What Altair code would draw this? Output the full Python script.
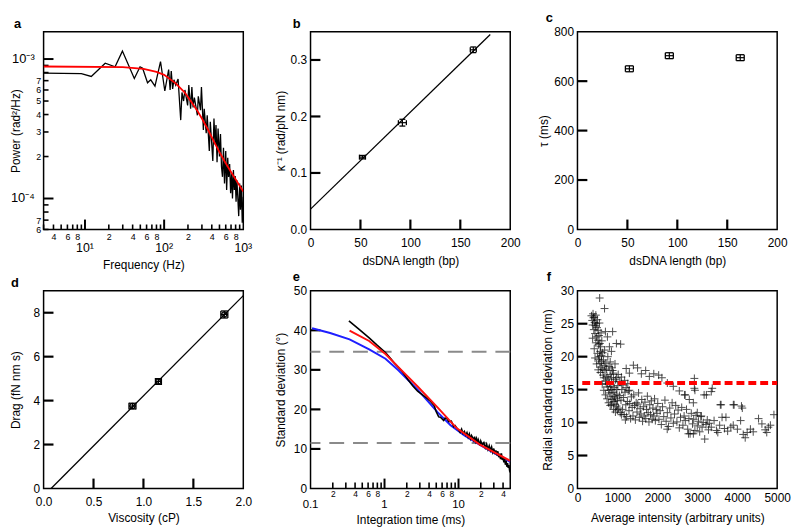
import math
import altair as alt
import pandas as pd

W, H = 202, 200
FONT = "Liberation Sans"

# ---------------- panel a : power spectrum ----------------
a_f = [3, 9, 12, 18, 24, 29.7, 42, 49.6, 53.5, 61.7, 67.7, 76.6, 90, 102, 114, 119, 123, 128, 133,
       140, 150, 162, 168, 176, 183, 198, 205, 216, 224, 232, 241, 263, 270, 288, 296, 313, 321,
       340, 350, 372, 383, 412, 426, 440, 452, 466, 480, 500, 515, 530, 546, 562, 579, 600, 616,
       636, 652, 672, 692, 712, 730, 750, 770, 790, 810, 830, 850, 875, 900, 920, 945, 970, 1000]
a_p = [7.94e-4, 7.85e-4, 7.5e-4, 9.33e-4, 8.8e-4, 1.14e-3, 7.25e-4, 8.8e-4, 8.6e-4, 6.76e-4,
       7.1e-4, 6.4e-4, 9.6e-4, 5.9e-4, 8.4e-4, 6.0e-4, 8.2e-4, 6.1e-4, 7.1e-4, 6.5e-4, 7.2e-4,
       3.65e-4, 5.76e-4, 5.0e-4, 6.0e-4, 4.65e-4, 6.5e-4, 4.4e-4, 6.3e-4, 4.5e-4, 5.3e-4, 3.95e-4,
       5.4e-4, 4.3e-4, 6.3e-4, 3.1e-4, 4.4e-4, 2.94e-4, 3.95e-4, 2.19e-4, 3.55e-4, 1.86e-4, 3.74e-4,
       2.44e-4, 3.37e-4, 1.82e-4, 3.18e-4, 2.0e-4, 2.9e-4, 1.7e-4, 1.43e-4, 2.31e-4, 1.28e-4,
       2.19e-4, 1.15e-4, 1.96e-4, 1.43e-4, 1.77e-4, 1.09e-4, 1.5e-4, 1.0e-4, 1.6e-4, 1.15e-4,
       1.45e-4, 9.5e-5, 1.35e-4, 1.05e-4, 7.48e-5, 1.28e-4, 8.3e-5, 1.24e-4, 6.7e-5, 1.03e-4]
a_fit_f = [3, 30, 55, 80, 100, 140, 180, 220, 260, 300, 360, 420, 500, 580, 700, 850, 1000]
a_fit_p = [8.84e-4, 8.75e-4, 8.5e-4, 8.1e-4, 7.7e-4, 6.7e-4, 5.8e-4, 4.95e-4, 4.3e-4, 3.75e-4,
           3.1e-4, 2.6e-4, 2.15e-4, 1.85e-4, 1.55e-4, 1.3e-4, 1.12e-4]
a_xdom = [3, 1000]
a_ydom = [6e-5, 1.57e-3]
a_xminor = [3, 4, 5, 6, 7, 8, 9, 20, 30, 40, 50, 60, 70, 80, 90, 200, 300, 400, 500, 600, 700, 800, 900]
a_xmajor_tick = [10, 100]
a_xmajor = [10, 100, 1000]
a_xmajor_lab = ["10\u00b9", "10\u00b2", "10\u00b3"]
a_yminor = [6e-5, 7e-5, 8e-5, 9e-5, 2e-4, 3e-4, 4e-4, 5e-4, 6e-4, 7e-4, 8e-4, 9e-4]
a_ymajor = [1e-4, 1e-3]
a_ymajor_lab = ["10\u207b\u2074", "10\u207b\u00b3"]

# ---------------- panel b ----------------
b_x = [52, 92, 163]
b_y = [0.128, 0.189, 0.318]
b_xerr = [3, 4, 3]
b_yerr = [0.003, 0.006, 0.005]
b_fit_x = [0, 180]
b_fit_y = [0.036, 0.345]
b_xdom = [0, 200]
b_ydom = [0, 0.35]
b_xticks = [50, 100, 150]
b_yticks = [0.1, 0.2, 0.3]

# ---------------- panel c ----------------
c_x = [52, 92, 163]
c_y = [650, 703, 695]
c_xerr = [4, 4, 4]
c_yerr = [12, 12, 12]
c_xdom = [0, 200]
c_ydom = [0, 800]
c_xticks = [50, 100, 150]
c_yticks = [200, 400, 600]

# ---------------- panel d ----------------
d_x = [0.89, 1.15, 1.81]
d_y = [3.75, 4.87, 7.92]
d_xerr = [0.035, 0.03, 0.035]
d_yerr = [0.13, 0.13, 0.16]
d_fit_x = [0.075, 2.0]
d_fit_y = [0.0, 8.78]
d_xdom = [0, 2]
d_ydom = [0, 9]
d_xticks = [0.5, 1.0, 1.5]
d_yticks = [2, 4, 6, 8]

# ---------------- panel e ----------------
e_blue_x = [0.105, 0.184, 0.337, 0.62, 1.03, 1.54, 2.8, 5.2, 7.8, 12, 20, 30, 50]
e_blue_y = [40.5, 39.3, 37.7, 35.2, 32.8, 29.9, 25.0, 19.3, 16.0, 13.4, 10.9, 9.0, 6.7]
e_red_x = [0.337, 0.62, 1.03, 1.54, 2.8, 5.2, 9.5, 19.4, 50]
e_red_y = [39.9, 37.3, 34.0, 30.7, 25.8, 20.5, 15.2, 11.1, 7.0]
e_blk_x = [0.33, 0.45, 0.62, 0.8, 1.03, 1.2, 1.39, 1.7, 2.08, 2.4, 2.8, 3.0, 3.4, 3.8, 4.2, 4.7,
           5.0, 5.4, 5.7, 6.3, 6.6, 7.0, 7.4, 8.0, 8.6, 9.0, 9.6,
           10, 10.5, 11, 11.5, 12, 12.5, 13, 13.5, 14, 14.5, 15, 15.5, 16, 16.5, 17, 17.5, 18,
           18.5, 19, 19.5, 20, 21, 22, 23, 24, 25, 26, 27, 28, 29, 30, 31, 32, 33, 34, 35, 36,
           37, 38, 39, 40, 41, 42, 43, 44, 45, 46, 47, 48, 49, 50]
e_blk_y = [42.4, 40.3, 38.1, 36.2, 34.4, 32.9, 31.5, 29.8, 27.5, 26.0, 24.6, 24.2, 23.4, 22.7,
           22.0, 20.9, 19.4, 18.1, 18.0, 17.2, 17.8, 17.6, 16.9, 17.0, 15.6, 15.9, 15.1,
           14.8, 14.2, 15.0, 13.9, 14.4, 13.5, 14.1, 13.0, 13.8, 12.6, 13.4, 12.9, 12.2, 13.1,
           11.9, 12.6, 11.4, 12.3, 11.7, 10.9, 12.0, 11.0, 11.6, 10.3, 11.2, 9.9, 10.8, 9.6,
           10.5, 9.2, 10.1, 8.7, 9.6, 8.4, 9.4, 7.9, 8.8, 7.4, 8.9, 7.2, 8.0, 6.6, 7.6, 6.0,
           7.0, 5.5, 6.4, 5.2, 5.9, 4.6, 5.0]
e_dash_y = [34.6, 11.5]
e_xdom = [0.1, 50]
e_ydom = [0, 50]
e_xminor = [0.2, 0.3, 0.4, 0.5, 0.6, 0.7, 0.8, 0.9, 2, 3, 4, 5, 6, 7, 8, 9, 20, 30, 40]
e_xmajor_tick = [1, 10]
e_xmajor = [0.1, 1, 10]
e_xmajor_lab = ["0.1", "1", "10"]
e_yticks = [10, 20, 30, 40]

# ---------------- panel f ----------------
f1_x = [350, 370, 380, 390, 400, 410, 420, 430, 440, 450, 460, 470, 480, 490, 500, 510, 520, 530,
        540, 550, 560, 570, 580, 590, 600, 380, 420, 460, 500, 530, 560, 590, 440, 480, 520, 550,
        575, 600, 610, 620, 630, 640, 650, 660, 670, 680, 690, 700, 710, 720, 730, 740, 750, 760,
        770, 780, 790, 800, 810, 820, 830, 840, 850, 860, 870, 880, 890, 900, 910, 920, 930, 940,
        950, 960, 970, 980, 990, 1000]
f1_y = [26.2, 25.5, 24.8, 26.5, 25.9, 24.1, 26.0, 25.2, 23.5, 24.7, 26.3, 25.0, 23.0, 24.4, 25.6,
        22.5, 24.0, 21.8, 23.2, 25.1, 22.0, 20.8, 21.5, 23.6, 20.2, 22.8, 21.2, 22.1, 20.5, 19.6,
        19.0, 18.4, 19.8, 18.9, 18.0, 20.0, 17.6, 19.3, 22.4, 18.1, 20.6, 17.2, 19.5, 16.8, 18.7,
        21.0, 17.9, 16.3, 19.0, 15.9, 18.1, 17.0, 15.4, 20.0, 16.6, 14.9, 18.5, 16.0, 14.5, 17.3,
        15.5, 13.9, 16.8, 15.0, 13.5, 17.9, 14.6, 16.2, 13.2, 15.3, 14.0, 12.8, 16.5, 13.7, 15.0,
        12.5, 14.3, 13.3]
f2_x = [556, 678, 700, 750, 800, 850, 880, 975, 1081, 1220, 1300, 1400, 1505, 1600, 1708, 1800,
        1911, 2033, 2114, 2250, 2400, 2550, 2683, 2800, 2927, 2941, 2927, 3171, 3228, 3350, 3374,
        3577, 3596, 3902, 3922, 4106, 4127]
f2_y = [28.9, 27.3, 23.8, 23.0, 21.5, 20.8, 23.8, 22.0, 21.9, 18.2, 17.5, 18.7, 18.3, 17.4, 17.9,
        17.0, 17.4, 17.2, 16.8, 16.0, 15.5, 14.8, 14.2, 13.5, 15.2, 14.9, 16.7, 14.2, 14.2, 14.7,
        15.2, 12.7, 12.7, 12.7, 12.7, 12.5, 12.2]
f3_x = [1010, 1030, 1050, 1070, 1090, 1110, 1130, 1150, 1170, 1190, 1210, 1230, 1250, 1270, 1290,
        1310, 1330, 1350, 1370, 1390, 1410, 1430, 1450, 1470, 1490, 1510, 1530, 1550, 1570, 1590,
        1610, 1630, 1650, 1670, 1690, 1710, 1730, 1750, 1770, 1790, 1810, 1830, 1850, 1870, 1890,
        1910, 1930, 1950, 1970, 1990]
f3_y = [15.6, 12.2, 14.1, 11.5, 13.4, 15.0, 12.0, 13.8, 11.2, 14.6, 12.7, 10.9, 13.2, 14.8, 11.8,
        12.9, 10.6, 13.9, 12.3, 11.0, 14.2, 12.6, 10.4, 13.0, 11.6, 12.8, 14.5, 10.8, 12.1, 11.3,
        13.5, 10.2, 12.4, 11.0, 13.1, 10.6, 12.0, 14.0, 11.5, 10.1, 12.7, 11.2, 13.3, 10.5, 12.2,
        11.0, 13.6, 10.3, 12.0, 11.4]
f4_x = [820, 860, 900, 940, 980, 1020, 1060, 1100, 1140, 1180, 1220, 1260, 1300, 850, 900, 950,
        1000, 1100, 1200, 620, 660, 700, 740, 780, 820]
f4_y = [19.2, 18.3, 17.5, 18.9, 16.8, 17.3, 16.2, 16.9, 15.7, 16.4, 15.3, 15.9, 14.9, 12.7, 12.0,
        11.6, 11.9, 11.2, 10.4, 15.8, 14.9, 14.2, 13.6, 13.0, 12.6]
f5_x = [2010, 2040, 2070, 2100, 2130, 2160, 2190, 2220, 2250, 2280, 2310, 2340, 2370, 2400, 2430,
        2460, 2490, 2520, 2550, 2580, 2610, 2640, 2670, 2700, 2730, 2760, 2790, 2820, 2850, 2880,
        2910, 2940, 2970, 3000, 3030, 3060, 3090, 3120, 3150, 3186, 3220, 3250, 3280, 3300, 2779,
        2902, 2247, 2902, 2696, 3000, 3100]
f5_y = [12.9, 10.5, 11.8, 9.7, 12.4, 10.9, 13.4, 10.2, 11.5, 9.4, 12.2, 10.7, 13.0, 9.9, 11.3,
        12.6, 10.1, 11.9, 9.2, 10.8, 12.3, 9.6, 11.0, 10.3, 12.0, 9.0, 10.6, 8.3, 11.4, 9.8, 10.5,
        8.8, 11.1, 9.5, 10.2, 8.6, 10.9, 9.3, 10.0, 7.5, 9.7, 10.4, 8.9, 9.9, 8.3, 8.3, 9.0, 13.0,
        14.2, 11.5, 11.0]
f6_x = [3350, 3420, 3480, 3514, 3560, 3620, 3680, 3718, 3760, 3840, 3900, 4004, 4085, 4150, 4200,
        4249, 4330, 4400, 4534, 4618, 4700, 4739, 4779, 4919, 4830]
f6_y = [9.3, 10.3, 8.8, 8.5, 9.6, 10.8, 9.1, 10.8, 8.7, 9.3, 9.6, 9.0, 10.3, 8.2, 7.7, 8.5, 9.0,
        8.6, 10.6, 9.8, 8.9, 8.5, 9.3, 11.2, 9.6]
f_thresh_x = [120]
f_thresh_x2 = [5000]
f_thresh_y = [16]
f_xdom = [0, 5000]
f_ydom = [0, 30]
f_yticks = [5, 10, 15, 20, 25]

# ---------------- helpers ----------------
DIGIT = "round(datum.value / pow(10, floor(log(datum.value) / LN10 + 1e-6)))"
EVEN = f"{DIGIT} % 2 == 0 ? toString({DIGIT}) : ''"
LOW7 = f"{DIGIT} >= 8 ? '' : toString({DIGIT})"


def panel_title(letter, dx):
    return alt.TitleParams(letter, anchor="start", frame="group", dx=dx, offset=1,
                           fontSize=13, fontWeight="bold", font=FONT, color="black")


def lin_axis(values, title_txt, pad, tpad, fmt=None):
    kw = dict(values=values, title=title_txt, domain=False, grid=False, ticks=False,
              labelPadding=pad, titlePadding=tpad, labelFlush=False, labelOverlap=False)
    if fmt is not None:
        kw["format"] = fmt
    return alt.Axis(**kw)


def minor_axis(values, title_txt, expr, pad, tpad, size=9):
    return alt.Axis(values=values, title=title_txt, labelExpr=expr, domain=False, grid=False,
                    ticks=False, labelFontSize=size, labelPadding=pad, titlePadding=tpad,
                    labelFlush=False, labelOverlap=False)


def inward(dom, is_log, px, size):
    """Data value lying `px` pixels in from the low end of a scale domain (tick centre)."""
    lo, hi = dom
    frac = px / size
    if is_log:
        return 10 ** (math.log10(lo) + frac * (math.log10(hi) - math.log10(lo)))
    return lo + frac * (hi - lo)


def xticks(vals, sx, sy, ax, ay, ydom, ylog, length, width=2.2):
    n = len(vals)
    df = pd.DataFrame({"v": vals, "m": [inward(ydom, ylog, length / 2.0, H)] * n})
    return alt.Chart(df).mark_tick(orient="vertical", size=length, thickness=width,
                                   color="black", opacity=1).encode(
        x=alt.X("v:Q", scale=sx, axis=ax), y=alt.Y("m:Q", scale=sy, axis=ay))


def yticks(vals, sx, sy, ax, ay, xdom, xlog, length, width=2.2):
    n = len(vals)
    df = pd.DataFrame({"v": vals, "m": [inward(xdom, xlog, length / 2.0, W)] * n})
    return alt.Chart(df).mark_tick(orient="horizontal", size=length, thickness=width,
                                   color="black", opacity=1).encode(
        y=alt.Y("v:Q", scale=sy, axis=ay), x=alt.X("m:Q", scale=sx, axis=ax))


def errbars(xs, ys, xerr, yerr, sx, sy, ax, ay, capw, caph):
    df = pd.DataFrame({
        "x": xs, "y": ys,
        "xlo": [a - b for a, b in zip(xs, xerr)], "xhi": [a + b for a, b in zip(xs, xerr)],
        "ylo": [a - b for a, b in zip(ys, yerr)], "yhi": [a + b for a, b in zip(ys, yerr)],
    })
    base = alt.Chart(df)
    X = lambda f: alt.X(f, scale=sx, axis=ax)
    Y = lambda f: alt.Y(f, scale=sy, axis=ay)
    tick = dict(thickness=1.3, color="black", opacity=1)
    return [
        base.mark_rule(color="black", strokeWidth=1.2).encode(x=X("x:Q"), y=Y("ylo:Q"), y2="yhi:Q"),
        base.mark_rule(color="black", strokeWidth=1.2).encode(y=Y("y:Q"), x=X("xlo:Q"), x2="xhi:Q"),
        base.mark_tick(orient="horizontal", size=capw, **tick).encode(x=X("x:Q"), y=Y("ylo:Q")),
        base.mark_tick(orient="horizontal", size=capw, **tick).encode(x=X("x:Q"), y=Y("yhi:Q")),
        base.mark_tick(orient="vertical", size=caph, **tick).encode(x=X("xlo:Q"), y=Y("y:Q")),
        base.mark_tick(orient="vertical", size=caph, **tick).encode(x=X("xhi:Q"), y=Y("y:Q")),
    ]


# ---------------- panel a ----------------
sax = alt.Scale(type="log", domain=a_xdom, nice=False)
say = alt.Scale(type="log", domain=a_ydom, nice=False)
AAX = minor_axis(a_xminor, "Frequency (Hz)", EVEN, 3, 18)
AAY = minor_axis(a_yminor, "Power (rad\u00b2/Hz)", LOW7, 3, 13)
a1 = alt.Chart(pd.DataFrame({"f": a_f, "p": a_p})).mark_line(color="black", strokeWidth=1.3, clip=True).encode(
    x=alt.X("f:Q", scale=sax, axis=AAX), y=alt.Y("p:Q", scale=say, axis=AAY))
a2 = alt.Chart(pd.DataFrame({"f": a_fit_f, "p": a_fit_p})).mark_line(color="#ff0000", strokeWidth=1.8, clip=True).encode(
    x=alt.X("f:Q", scale=sax, axis=AAX), y=alt.Y("p:Q", scale=say, axis=AAY))
a4 = alt.Chart(pd.DataFrame({"v": a_xmajor, "t": a_xmajor_lab})).mark_text(fontSize=12.5, font=FONT, color="black", baseline="middle").encode(
    x=alt.X("v:Q", scale=sax, axis=AAX), y=alt.value(H + 19), text="t:N")
a6 = alt.Chart(pd.DataFrame({"v": a_ymajor, "t": a_ymajor_lab})).mark_text(fontSize=13, font=FONT, color="black", baseline="middle", align="right").encode(
    y=alt.Y("v:Q", scale=say, axis=AAY), x=alt.value(-9), text="t:N")
panel_a = alt.layer(
    xticks(a_xminor, sax, say, AAX, AAY, a_ydom, True, 5, 1.6),
    xticks(a_xmajor_tick, sax, say, AAX, AAY, a_ydom, True, 10, 2.0),
    yticks(a_yminor, sax, say, AAX, AAY, a_xdom, True, 5, 1.6),
    yticks(a_ymajor, sax, say, AAX, AAY, a_xdom, True, 10, 2.0),
    a1, a2, a4, a6,
).properties(width=W, height=H, title=panel_title("a", -30))

# ---------------- panel b ----------------
sbx = alt.Scale(domain=b_xdom, nice=False)
sby = alt.Scale(domain=b_ydom, nice=False)
BAX = lin_axis([0, 50, 100, 150, 200], "dsDNA length (bp)", 8, 7)
BAY = lin_axis([0, 0.1, 0.2, 0.3], "\u03ba\u207b\u00b9 (rad/pN nm)", 4, 3, fmt=".1f")
b1 = alt.Chart(pd.DataFrame({"x": b_fit_x, "y": b_fit_y})).mark_line(color="black", strokeWidth=1.3).encode(
    x=alt.X("x:Q", scale=sbx, axis=BAX), y=alt.Y("y:Q", scale=sby, axis=BAY))
panel_b = alt.layer(
    xticks(b_xticks, sbx, sby, BAX, BAY, b_ydom, False, 10),
    yticks(b_yticks, sbx, sby, BAX, BAY, b_xdom, False, 10),
    b1,
    *errbars(b_x, b_y, b_xerr, b_yerr, sbx, sby, BAX, BAY, 6, 5),
).properties(width=W, height=H, title=panel_title("b", -18))

# ---------------- panel c ----------------
scx = alt.Scale(domain=c_xdom, nice=False)
scy = alt.Scale(domain=c_ydom, nice=False)
CAX = lin_axis([0, 50, 100, 150, 200], "dsDNA length (bp)", 8, 7)
CAY = lin_axis([0, 200, 400, 600, 800], "\u03c4 (ms)", 4, 3)
panel_c = alt.layer(
    xticks(c_xticks, scx, scy, CAX, CAY, c_ydom, False, 10),
    yticks(c_yticks, scx, scy, CAX, CAY, c_xdom, False, 10),
    *errbars(c_x, c_y, c_xerr, c_yerr, scx, scy, CAX, CAY, 8, 6),
).properties(width=W, height=H, title=panel_title("c", -32))

# ---------------- panel d ----------------
sdx = alt.Scale(domain=d_xdom, nice=False)
sdy = alt.Scale(domain=d_ydom, nice=False)
DAX = lin_axis([0, 0.5, 1.0, 1.5, 2.0], "Viscosity (cP)", 8, 5, fmt=".1f")
DAY = lin_axis([0, 2, 4, 6, 8], "Drag (fN nm s)", 4, 11)
d1 = alt.Chart(pd.DataFrame({"x": d_fit_x, "y": d_fit_y})).mark_line(color="black", strokeWidth=1.3).encode(
    x=alt.X("x:Q", scale=sdx, axis=DAX), y=alt.Y("y:Q", scale=sdy, axis=DAY))
d2 = alt.Chart(pd.DataFrame({"x": d_x, "y": d_y})).mark_point(shape="circle", filled=False, size=28, color="black", strokeWidth=1.3, opacity=1).encode(
    x=alt.X("x:Q", scale=sdx, axis=DAX), y=alt.Y("y:Q", scale=sdy, axis=DAY))
panel_d = alt.layer(
    xticks(d_xticks, sdx, sdy, DAX, DAY, d_ydom, False, 10),
    yticks(d_yticks, sdx, sdy, DAX, DAY, d_xdom, False, 10),
    d1, d2,
    *errbars(d_x, d_y, d_xerr, d_yerr, sdx, sdy, DAX, DAY, 7, 7),
).properties(width=W, height=H, title=panel_title("d", -33))

# ---------------- panel e ----------------
sex = alt.Scale(type="log", domain=e_xdom, nice=False)
sey = alt.Scale(domain=e_ydom, nice=False)
EAX = minor_axis(e_xminor, "Integration time (ms)", EVEN, 1, 17, size=8.5)
EAY = lin_axis([0, 10, 20, 30, 40, 50], "Standard deviation (\u00b0)", 4, 6)
e_dash = alt.Chart(pd.DataFrame({"y": e_dash_y})).mark_rule(color="#8a8a8a", strokeWidth=2, strokeDash=[15, 9]).encode(
    y=alt.Y("y:Q", scale=sey, axis=EAY))
e_blue = alt.Chart(pd.DataFrame({"x": e_blue_x, "y": e_blue_y})).mark_line(color="#1f1fff", strokeWidth=2, clip=True).encode(
    x=alt.X("x:Q", scale=sex, axis=EAX), y=alt.Y("y:Q", scale=sey, axis=EAY))
e_blk = alt.Chart(pd.DataFrame({"x": e_blk_x, "y": e_blk_y})).mark_line(color="black", strokeWidth=1.6, clip=True).encode(
    x=alt.X("x:Q", scale=sex, axis=EAX), y=alt.Y("y:Q", scale=sey, axis=EAY))
e_red = alt.Chart(pd.DataFrame({"x": e_red_x, "y": e_red_y})).mark_line(color="#ff1010", strokeWidth=2, clip=True).encode(
    x=alt.X("x:Q", scale=sex, axis=EAX), y=alt.Y("y:Q", scale=sey, axis=EAY))
e_lab = alt.Chart(pd.DataFrame({"v": e_xmajor, "t": e_xmajor_lab})).mark_text(fontSize=11.5, font=FONT, color="black", baseline="middle").encode(
    x=alt.X("v:Q", scale=sex, axis=EAX), y=alt.value(H + 17), text="t:N")
panel_e = alt.layer(
    xticks(e_xminor, sex, sey, EAX, EAY, e_ydom, False, 6, 1.6),
    xticks(e_xmajor_tick, sex, sey, EAX, EAY, e_ydom, False, 10, 2.0),
    yticks(e_yticks, sex, sey, EAX, EAY, e_xdom, True, 10),
    e_dash, e_blue, e_blk, e_red, e_lab,
).properties(width=W, height=H, title=panel_title("e", -18))

# ---------------- panel f ----------------
sfx = alt.Scale(domain=f_xdom, nice=False)
sfy = alt.Scale(domain=f_ydom, nice=False)
FAX = lin_axis([0, 1000, 2000, 3000, 4000, 5000], "Average intensity (arbitrary units)", 4, 9, fmt="d")
FAY = lin_axis([0, 5, 10, 15, 20, 25, 30], "Radial standard deviation (nm)", 4, 6)
f_df = pd.DataFrame({"x": f1_x + f2_x + f3_x + f4_x + f5_x + f6_x,
                     "y": f1_y + f2_y + f3_y + f4_y + f5_y + f6_y})
f1 = alt.Chart(f_df).mark_point(shape="M-1,0L1,0M0,-1L0,1", filled=False, size=64, strokeWidth=1,
                                color="black", opacity=0.7).encode(
    x=alt.X("x:Q", scale=sfx, axis=FAX), y=alt.Y("y:Q", scale=sfy, axis=FAY))
f2 = alt.Chart(pd.DataFrame({"x": f_thresh_x, "x2": f_thresh_x2, "y": f_thresh_y})).mark_rule(
    color="#ff0000", strokeWidth=4, strokeDash=[8, 4]).encode(
    x=alt.X("x:Q", scale=sfx, axis=FAX), x2="x2:Q", y=alt.Y("y:Q", scale=sfy, axis=FAY))
panel_f = alt.layer(
    yticks(f_yticks, sfx, sfy, FAX, FAY, f_xdom, False, 10), f1, f2,
).properties(width=W, height=H, title=panel_title("f", -31))

chart = alt.concat(panel_a, panel_b, panel_c, panel_d, panel_e, panel_f, columns=3,
                   spacing={"row": 62, "column": 68}, bounds="flush", padding=0).configure_view(
    stroke="black", strokeWidth=1.5).configure_axis(
    labelFont=FONT, titleFont=FONT, labelFontSize=12, titleFontSize=12, labelColor="black",
    titleColor="black", titleFontWeight="normal", grid=False).configure_text(font=FONT)

chart.save("out.html", embed_options={"renderer": "svg", "actions": False})
